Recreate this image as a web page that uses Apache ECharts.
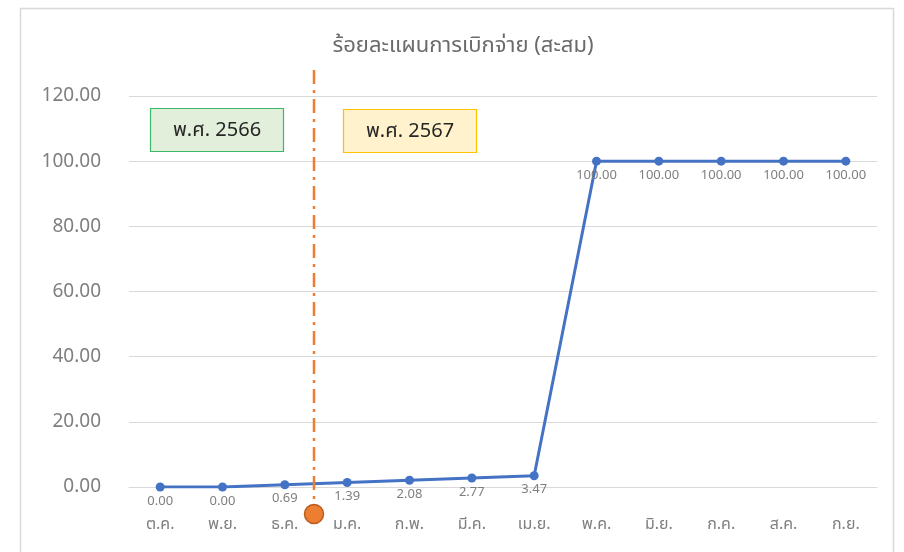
<!DOCTYPE html>
<html>
<head>
<meta charset="utf-8">
<script src="https://cdn.jsdelivr.net/npm/echarts@6/dist/echarts.min.js"></script>
<style>
html,body{margin:0;padding:0;background:#fff;}
#chart{width:904px;height:552px;}
</style>
</head>
<body>
<div id="chart"></div>
<script>
const titleText = 'ร้อยละแผนการเบิกจ่าย (สะสม)';
const categories = ['ต.ค.', 'พ.ย.', 'ธ.ค.', 'ม.ค.', 'ก.พ.', 'มี.ค.', 'เม.ย.', 'พ.ค.', 'มิ.ย.', 'ก.ค.', 'ส.ค.', 'ก.ย.'];
const values = [0.00, 0.00, 0.69, 1.39, 2.08, 2.77, 3.47, 100.00, 100.00, 100.00, 100.00, 100.00];
const yTicks = { min: 0, max: 120, interval: 20 };
const yearLabels = ['พ.ศ. 2566', 'พ.ศ. 2567'];
const yearDividerIndex = 3; // boundary before ม.ค.

const FONT = '"Noto Sans", "Noto Sans Thai", Tahoma, sans-serif';
const chart = echarts.init(document.getElementById('chart'), null, { renderer: 'canvas' });

const option = {
  backgroundColor: '#ffffff',
  animation: false,
  title: {
    text: titleText,
    left: 458, top: 30, textAlign: 'center',
    textStyle: { color: '#6b6b6b', fontSize: 22, fontWeight: 'normal', fontFamily: FONT }
  },
  grid: { left: 129, right: 27, top: 96, bottom: 65, containLabel: false },
  xAxis: {
    type: 'category',
    data: categories,
    boundaryGap: true,
    axisLine: { show: true, lineStyle: { color: '#D9D9D9', width: 1 } },
    axisTick: { show: false },
    axisLabel: { color: '#7F7F7F', fontSize: 16, margin: 29, fontFamily: FONT }
  },
  yAxis: {
    type: 'value',
    min: yTicks.min, max: yTicks.max, interval: yTicks.interval,
    axisLine: { show: false },
    axisTick: { show: false },
    splitLine: { lineStyle: { color: '#D9D9D9', width: 1 } },
    axisLabel: { color: '#7F7F7F', fontSize: 19, margin: 28, fontFamily: FONT,
      formatter: v => v.toFixed(2) }
  },
  series: [{
    type: 'line',
    data: values,
    symbol: 'circle',
    symbolSize: 9,
    lineStyle: { color: '#4472C4', width: 3 },
    itemStyle: { color: '#4472C4' },
    label: {
      show: true, position: 'bottom', distance: 3,
      color: '#7F7F7F', fontSize: 13, fontFamily: FONT,
      formatter: p => p.value.toFixed(2)
    },
    z: 3
  }]
};
chart.setOption(option);

// Annotation overlay derived from axis coordinates
const xA = chart.convertToPixel({ xAxisIndex: 0 }, yearDividerIndex - 1);
const xB = chart.convertToPixel({ xAxisIndex: 0 }, yearDividerIndex);
const divX = (xA + xB) / 2 - 2;
const yTop = chart.convertToPixel({ yAxisIndex: 0 }, yTicks.max);

chart.setOption({
  graphic: [
    { type: 'rect', shape: { x: 20.5, y: 8.5, width: 873, height: 560 },
      style: { fill: null, stroke: '#D9D9D9', lineWidth: 1.5 }, silent: true, z: -1 },
    { type: 'line', shape: { x1: divX, y1: yTop - 26, x2: divX, y2: 512 },
      style: { stroke: '#ED7D31', lineWidth: 2.5, lineDash: [14, 6, 3, 6] }, z: 10 },
    { type: 'circle', shape: { cx: divX, cy: 514, r: 9.5 },
      style: { fill: '#ED7D31', stroke: '#B85C1F', lineWidth: 1.5 }, z: 11 },
    { type: 'rect', shape: { x: 150.5, y: 108.5, width: 133, height: 43 },
      style: { fill: '#E2EFDA', stroke: '#3DB86A', lineWidth: 1.2 }, z: 12 },
    { type: 'text', x: 217, y: 130, z: 13,
      style: { text: yearLabels[0], fill: '#262626', fontSize: 20, fontFamily: FONT,
        align: 'center', verticalAlign: 'middle' } },
    { type: 'rect', shape: { x: 343.5, y: 109.5, width: 133, height: 43 },
      style: { fill: '#FFF2CC', stroke: '#FFC000', lineWidth: 1.2 }, z: 12 },
    { type: 'text', x: 410, y: 131, z: 13,
      style: { text: yearLabels[1], fill: '#262626', fontSize: 20, fontFamily: FONT,
        align: 'center', verticalAlign: 'middle' } }
  ]
});
</script>
</body>
</html>
